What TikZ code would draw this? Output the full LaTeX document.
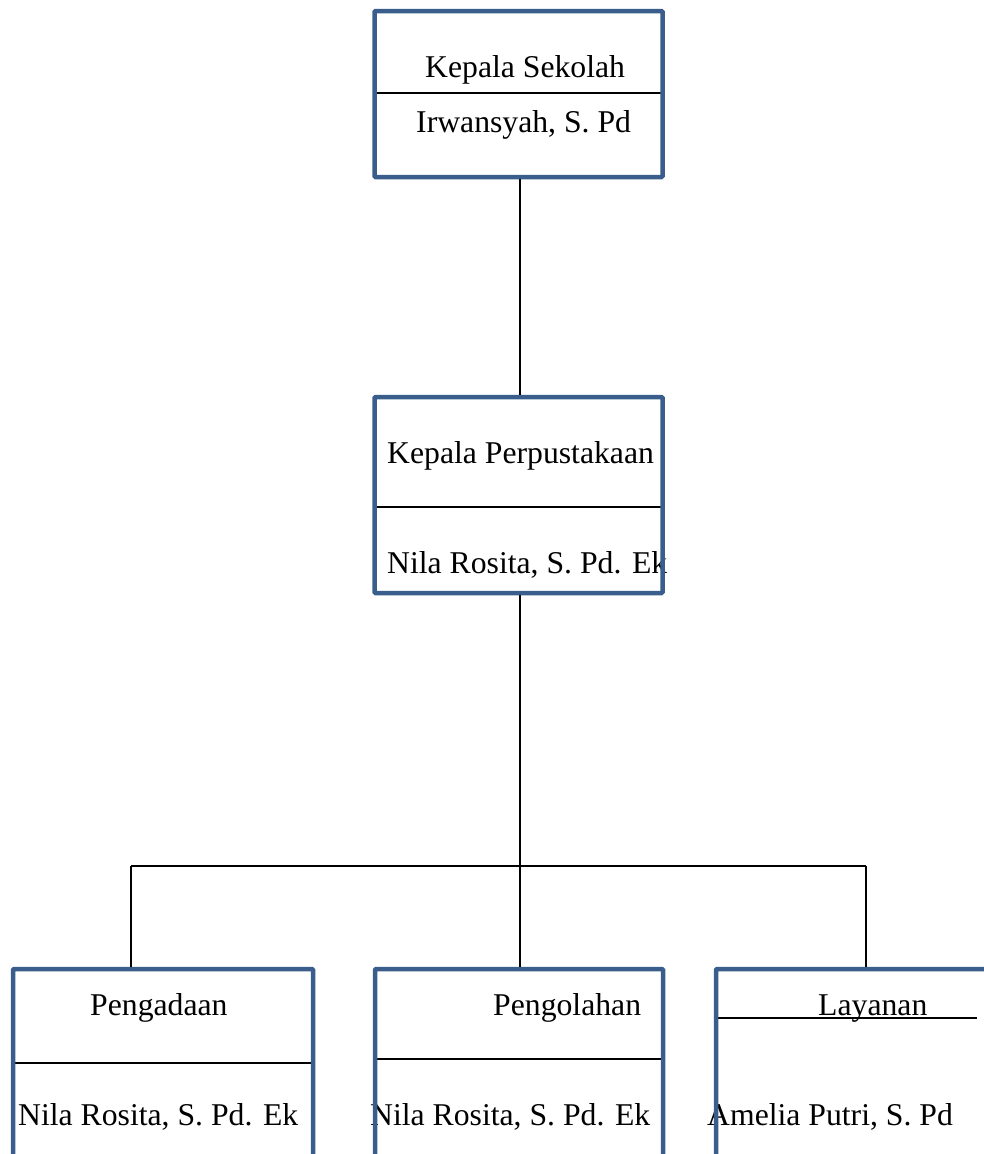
\documentclass[tikz,border=0pt]{standalone}
\usepackage{fontspec}
\setmainfont{Liberation Serif}
\definecolor{bord}{HTML}{3A5E8C}
\begin{document}
\begin{tikzpicture}[x=1pt,y=-1pt,
  box/.style={draw=bord,line width=4.5pt,inner sep=0pt,rounded corners=1pt},
  lbl/.style={inner sep=0pt,anchor=base west,font=\fontsize{31.7}{38}\selectfont},
  thinl/.style={draw=black,line width=1.8pt}]
\useasboundingbox (0,0) rectangle (984,1154);
\clip (0,0) rectangle (984,1154);
% texts
\node[lbl] (t1) at (425,77) {Kepala Sekolah};
\node[lbl] (n1) at (416,132) {Irwansyah, S. Pd};
\node[lbl] (t2) at (387,463) {Kepala Perpustakaan};
\node[lbl] (n2) at (387,573) {Nila Rosita, S. Pd. Ek};
\node[lbl] (t3) at (90,1015) {Pengadaan};
\node[lbl] (n3) at (18,1125) {Nila Rosita, S. Pd. Ek};
\node[lbl] (t4) at (493,1015) {Pengolahan};
\node[lbl] (n4) at (370,1125) {Nila Rosita, S. Pd. Ek};
\node[lbl] (t5) at (818,1015) {Layanan};
\node[lbl] (n5) at (707,1125) {Amelia Putri, S. Pd};
% dividers
\draw[thinl] (375,93) -- (662,93);
\draw[thinl] (375,507) -- (662,507);
\draw[thinl] (13,1063) -- (313,1063);
\draw[thinl] (375,1059) -- (663,1059);
\draw[thinl] (717,1018) -- (977,1018);
% boxes
\node[box,minimum width=288pt,minimum height=166pt] (ks) at (518.5,94) {};
\node[box,minimum width=288pt,minimum height=196pt] (kp) at (518.5,495) {};
\node[box,minimum width=300pt,minimum height=462pt] (p1) at (163,1200) {};
\node[box,minimum width=288pt,minimum height=462pt] (p2) at (519,1200) {};
\node[box,minimum width=384pt,minimum height=462pt] (p3) at (908,1200) {};
% connectors
\coordinate (bL) at (131,866);
\coordinate (bM) at (520,866);
\coordinate (bR) at (866,866);
\draw[thinl] (ks.south -| bM) -- (kp.north -| bM);
\draw[thinl] (kp.south -| bM) -- (bM);
\draw[thinl] (bL) -- (bR);
\draw[thinl] (bL) -- (bL |- p1.north);
\draw[thinl] (bM) -- (bM |- p2.north);
\draw[thinl] (bR) -- (bR |- p3.north);
\end{tikzpicture}
\end{document}
